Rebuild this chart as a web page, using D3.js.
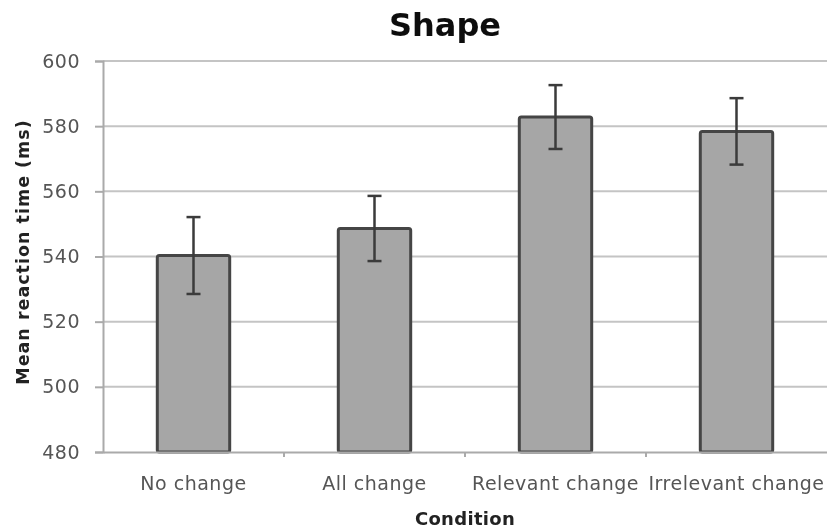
<!DOCTYPE html>
<html>
<head>
<meta charset="utf-8">
<script src="https://cdn.jsdelivr.net/npm/d3@7"></script>
<style>
  html, body { margin: 0; padding: 0; background: #fff; }
  svg { display: block; }
  text { font-family: "DejaVu Sans", "Noto Sans", sans-serif; }
</style>
</head>
<body>
<svg id="chart" width="827" height="530"></svg>
<script>
// Mean reaction time per condition, with error bar half-widths (ms)
const categories = ["No change", "All change", "Relevant change", "Irrelevant change"];
const means = [540.3, 548.6, 582.8, 578.4];
const errors = [11.8, 10.0, 9.8, 10.2];
const yTicks = [480, 500, 520, 540, 560, 580, 600];

const svg = d3.select("#chart");
const margin = { left: 103, top: 61 };
const W = 827;
const plotWidth = 724;

const x = d3.scaleBand()
  .domain(categories)
  .range([margin.left, margin.left + plotWidth])
  .paddingInner(0.6)
  .paddingOuter(0.3);

const y = d3.scaleLinear()
  .domain([480, 600])
  .range([452, margin.top]);

svg.append("defs").append("filter").attr("id", "soft")
  .append("feGaussianBlur").attr("stdDeviation", 0.45);
const g = svg.append("g").attr("filter", "url(#soft)");

// horizontal gridlines
g.append("g").selectAll("line").data(yTicks.slice(1)).join("line")
  .attr("x1", margin.left).attr("x2", W)
  .attr("y1", d => y(d)).attr("y2", d => y(d))
  .attr("stroke", "#c4c4c4").attr("stroke-width", 2);

// y axis
const yAxis = g.append("g")
  .attr("transform", `translate(${margin.left},0)`)
  .call(d3.axisLeft(y).tickValues(yTicks).tickSize(8).tickPadding(15).tickFormat(d3.format("d")));
yAxis.select(".domain").attr("stroke", "#aaaaaa").attr("stroke-width", 2);
yAxis.selectAll(".tick line").attr("stroke", "#aaaaaa").attr("stroke-width", 2);
yAxis.selectAll(".tick text").attr("font-size", 19).attr("letter-spacing", 0.5).attr("fill", "#555");

// bars
g.append("g").selectAll("rect").data(categories).join("rect")
  .attr("x", d => x(d))
  .attr("width", x.bandwidth())
  .attr("y", (d, i) => y(means[i]))
  .attr("height", (d, i) => y(480) - y(means[i]))
  .attr("rx", 2)
  .attr("fill", "#a6a6a6")
  .attr("stroke", "#454545")
  .attr("stroke-width", 3);

// x axis
const xAxis = g.append("g")
  .attr("transform", `translate(0,${y(480)})`)
  .call(d3.axisBottom(x).tickSize(0).tickPadding(24.5));
xAxis.select(".domain").attr("stroke", "#aaaaaa").attr("stroke-width", 2);
xAxis.selectAll(".tick text").attr("font-size", 19).attr("letter-spacing", 0.5).attr("fill", "#555");
// separators between categories
const step = plotWidth / categories.length;
xAxis.selectAll(".sep").data(d3.range(1, categories.length)).join("line")
  .attr("class", "sep")
  .attr("x1", d => margin.left + d * step).attr("x2", d => margin.left + d * step)
  .attr("y1", 0).attr("y2", 5)
  .attr("stroke", "#aaaaaa").attr("stroke-width", 2);

// error bars
const eb = g.append("g").attr("stroke", "#3a3a3a").attr("stroke-width", 2.5);
categories.forEach((c, i) => {
  const cx = x(c) + x.bandwidth() / 2;
  const lo = y(means[i] - errors[i]);
  const hi = y(means[i] + errors[i]);
  eb.append("line").attr("x1", cx).attr("x2", cx).attr("y1", lo).attr("y2", hi);
  eb.append("line").attr("x1", cx - 7).attr("x2", cx + 7).attr("y1", lo).attr("y2", lo);
  eb.append("line").attr("x1", cx - 7).attr("x2", cx + 7).attr("y1", hi).attr("y2", hi);
});

// title and axis labels
g.append("text").attr("x", 445).attr("y", 36).attr("text-anchor", "middle")
  .attr("font-size", 32).attr("font-weight", "bold").attr("fill", "#111").text("Shape");
g.append("text").attr("x", 465).attr("y", 525).attr("text-anchor", "middle")
  .attr("font-size", 18).attr("letter-spacing", 0.3).attr("font-weight", "bold").attr("fill", "#222").text("Condition");
g.append("text").attr("transform", "translate(29,252) rotate(-90)").attr("text-anchor", "middle")
  .attr("font-size", 17.5).attr("letter-spacing", 1).attr("font-weight", "bold").attr("fill", "#222").text("Mean reaction time (ms)");
</script>
</body>
</html>
